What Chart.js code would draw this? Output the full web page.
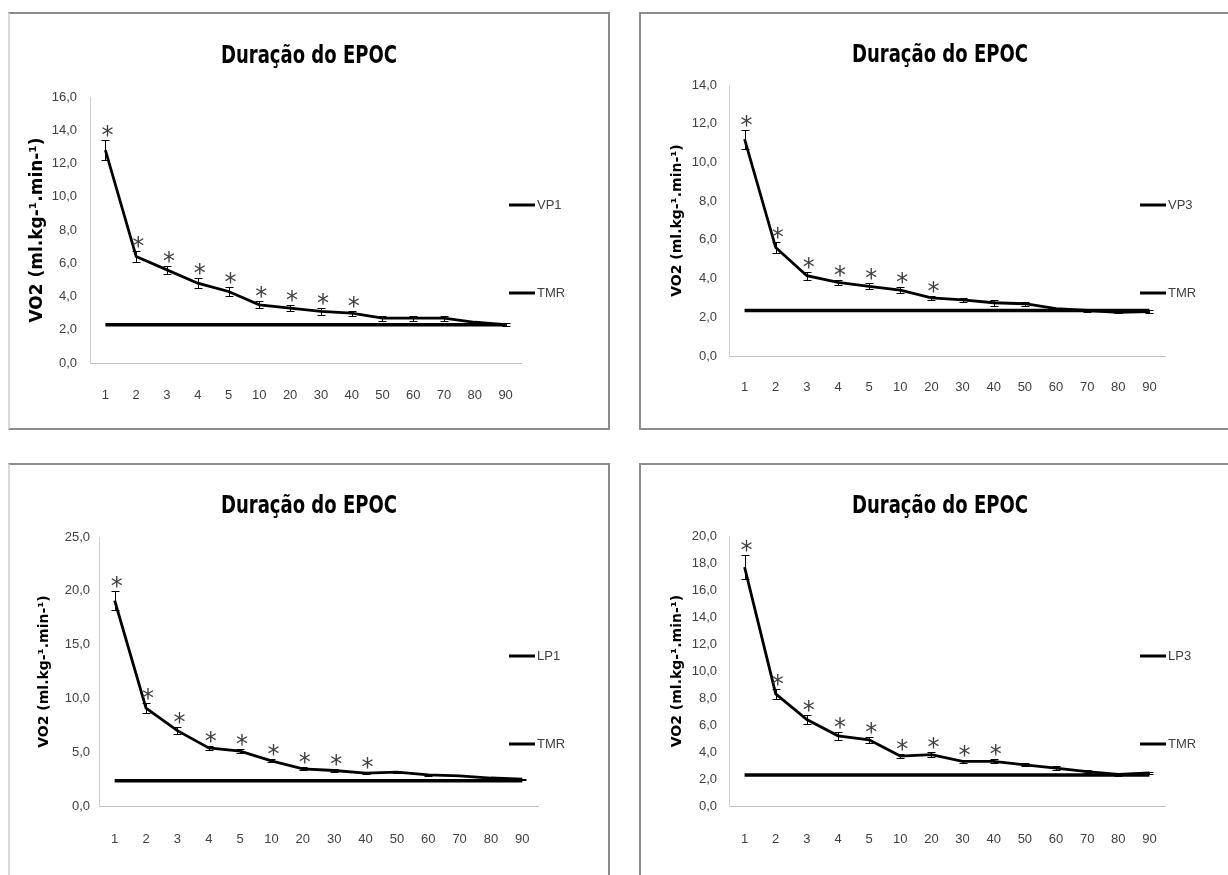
<!DOCTYPE html>
<html>
<head>
<meta charset="utf-8">
<script src="https://cdn.jsdelivr.net/npm/chart.js@4.4.1/dist/chart.umd.min.js"></script>
<style>
  html, body { margin:0; padding:0; background:#fff; width:1228px; height:875px; overflow:hidden; }
  .panel { position:absolute; box-sizing:border-box; border:2px solid #8c8c8c; }
  .panel.leftcol { border-left:2px solid #d9d9d9; }
  canvas { position:absolute; }
</style>
</head>
<body>
<div class="panel leftcol" style="left:8px;top:12px;width:602px;height:418px;"></div>
<div class="panel" style="left:639px;top:12px;width:602px;height:418px;"></div>
<div class="panel leftcol" style="left:8px;top:463px;width:602px;height:500px;"></div>
<div class="panel" style="left:639px;top:463px;width:602px;height:500px;"></div>
<canvas id="c1" width="600" height="416" style="left:9px;top:13px;"></canvas>
<canvas id="c2" width="600" height="416" style="left:640px;top:13px;"></canvas>
<canvas id="c3" width="600" height="416" style="left:9px;top:464px;"></canvas>
<canvas id="c4" width="600" height="416" style="left:640px;top:464px;"></canvas>
<script>
// ---------- data ----------
const minutes = ['1','2','3','4','5','10','20','30','40','50','60','70','80','90'];

const vp1    = [12.8, 6.4, 5.6, 4.8, 4.3, 3.5, 3.3, 3.1, 3.0, 2.7, 2.7, 2.7, 2.45, 2.3];
const vp1Sd  = [0.6, 0.35, 0.25, 0.3, 0.25, 0.2, 0.2, 0.2, 0.15, 0.15, 0.15, 0.15, 0.1, 0.1];
const vp1Sig = [1,1,1,1,1,1,1,1,1,0,0,0,0,0];
const vp1Tmr = [2.3, 2.3, 2.3, 2.3, 2.3, 2.3, 2.3, 2.3, 2.3, 2.3, 2.3, 2.3, 2.3, 2.3];

const vp3    = [11.2, 5.6, 4.15, 3.8, 3.6, 3.4, 3.0, 2.9, 2.75, 2.7, 2.45, 2.35, 2.25, 2.3];
const vp3Sd  = [0.5, 0.3, 0.2, 0.15, 0.15, 0.15, 0.1, 0.1, 0.15, 0.1, 0.05, 0.1, 0.05, 0.1];
const vp3Sig = [1,1,1,1,1,1,1,0,0,0,0,0,0,0];
const vp3Tmr = [2.35, 2.35, 2.35, 2.35, 2.35, 2.35, 2.35, 2.35, 2.35, 2.35, 2.35, 2.35, 2.35, 2.35];

const lp1    = [19.1, 9.1, 7.0, 5.4, 5.1, 4.2, 3.45, 3.3, 3.05, 3.15, 2.9, 2.8, 2.6, 2.5];
const lp1Sd  = [0.9, 0.5, 0.3, 0.2, 0.2, 0.15, 0.15, 0.1, 0.1, 0.1, 0.1, 0.05, 0.05, 0.05];
const lp1Sig = [1,1,1,1,1,1,1,1,1,0,0,0,0,0];
const lp1Tmr = [2.35, 2.35, 2.35, 2.35, 2.35, 2.35, 2.35, 2.35, 2.35, 2.35, 2.35, 2.35, 2.35, 2.35];

const lp3    = [17.7, 8.3, 6.4, 5.2, 4.9, 3.7, 3.8, 3.3, 3.3, 3.05, 2.8, 2.55, 2.35, 2.45];
const lp3Sd  = [0.9, 0.4, 0.35, 0.3, 0.2, 0.15, 0.2, 0.1, 0.15, 0.1, 0.15, 0.1, 0.1, 0.1];
const lp3Sig = [1,1,1,1,1,1,1,1,1,0,0,0,0,0];
const lp3Tmr = [2.3, 2.3, 2.3, 2.3, 2.3, 2.3, 2.3, 2.3, 2.3, 2.3, 2.3, 2.3, 2.3, 2.3];

const chartTitle = 'Duração do EPOC';
const yTitle = 'VO2 (ml.kg-¹.min-¹)';

// ---------- styling ----------
const COND = '"DejaVu Sans Condensed", "Liberation Sans Narrow", sans-serif';
const SANS = '"Liberation Sans", Arial, sans-serif';

const decorPlugin = {
  id: 'decor',
  beforeDraw(chart, args, opts) {
    // narrow the title box so the bold title is drawn condensed (like Calibri)
    const tb = chart.titleBlock;
    if (tb) {
      const cx = (tb.left + tb.right) / 2;
      tb.left = cx - opts.titleWidth / 2;
      tb.right = cx + opts.titleWidth / 2;
    }
  },
  afterDatasetsDraw(chart, args, opts) {
    const ctx = chart.ctx, xs = chart.scales.x, ys = chart.scales.y;
    const ds = chart.data.datasets[0];
    ctx.save();
    // error bars
    ctx.strokeStyle = '#000';
    ctx.lineWidth = 1;
    ds.data.forEach((v, i) => {
      const x = Math.round(xs.getPixelForValue(i)) + 0.5;
      const yt = Math.round(ys.getPixelForValue(v + opts.sd[i])) + 0.5;
      const yb = Math.round(ys.getPixelForValue(v - opts.sd[i])) + 0.5;
      ctx.beginPath();
      ctx.moveTo(x, yt); ctx.lineTo(x, yb);
      ctx.moveTo(x - 4, yt); ctx.lineTo(x + 4, yt);
      ctx.moveTo(x - 4, yb); ctx.lineTo(x + 4, yb);
      ctx.stroke();
    });
    // significance asterisks
    ctx.font = '24px "DejaVu Sans"';
    ctx.fillStyle = '#404040';
    ctx.textAlign = 'center';
    ctx.textBaseline = 'alphabetic';
    const m = ctx.measureText('*');
    const off = (m.actualBoundingBoxAscent - m.actualBoundingBoxDescent) / 2;
    ds.data.forEach((v, i) => {
      if (!opts.sig[i]) return;
      const x = xs.getPixelForValue(i) + 2;
      const yt = ys.getPixelForValue(v + opts.sd[i]);
      ctx.fillText('*', x, yt - 9 + off);
    });
    // legend
    ctx.font = '13px ' + SANS;
    ctx.fillStyle = '#404040';
    ctx.textAlign = 'left';
    ctx.textBaseline = 'middle';
    chart.data.datasets.forEach((d, i) => {
      const y = opts.legendY[i];
      ctx.strokeStyle = d.borderColor;
      ctx.lineWidth = 3;
      ctx.beginPath();
      ctx.moveTo(opts.legendX, y); ctx.lineTo(opts.legendX + 26, y);
      ctx.stroke();
      ctx.fillText(d.label, opts.legendX + 28, y);
    });
    ctx.restore();
  }
};

function makeChart(id, label, data, tmr, sd, sig, yMax, yStep, L) {
  new Chart(document.getElementById(id), {
    type: 'line',
    data: {
      labels: minutes,
      datasets: [
        { label: label, data: data, borderColor: '#000', borderWidth: 2.8, pointRadius: 0, tension: 0, fill: false },
        { label: 'TMR', data: tmr, borderColor: '#000', borderWidth: 3.5, pointRadius: 0, tension: 0, fill: false }
      ]
    },
    options: {
      responsive: false,
      animation: false,
      devicePixelRatio: 1,
      layout: { padding: 0 },
      plugins: {
        legend: { display: false },
        tooltip: { enabled: false },
        title: {
          display: true, text: chartTitle, color: '#000',
          font: { family: COND, size: 25, weight: 'bold', lineHeight: 1.2 },
          padding: { top: L.titleTop, bottom: L.titleBottom }
        },
        decor: { sd: sd, sig: sig, legendX: 500, legendY: [192, 280], titleWidth: 176 }
      },
      scales: {
        x: {
          type: 'category', offset: true,
          grid: { display: false, drawTicks: false },
          border: { color: '#bfbfbf', width: 1 },
          ticks: { padding: L.xPad, color: '#404040', font: { family: SANS, size: 13 }, maxRotation: 0, autoSkip: false },
          afterFit: s => { s.height = L.xHeight; }
        },
        y: {
          min: 0, max: yMax,
          grid: { display: false, drawTicks: false },
          border: { color: '#d0d0d0', width: 1 },
          ticks: { stepSize: yStep, padding: L.yPad, color: '#404040', font: { family: SANS, size: 13 },
                   callback: v => v.toFixed(1).replace('.', ',') },
          title: { display: true, text: yTitle, color: '#000',
                   font: { family: '"DejaVu Sans"', size: L.yTitleSize, weight: 'bold', lineHeight: 1.2 },
                   padding: { top: L.yTitlePad, bottom: 0 } },
          afterFit: s => { s.width = L.yWidth; }
        },
        side: {
          type: 'linear', position: 'right', display: true,
          grid: { display: false, drawTicks: false },
          border: { display: false },
          ticks: { display: false },
          afterFit: s => { s.width = L.padRight; }
        }
      }
    },
    plugins: [decorPlugin]
  });
}

makeChart('c1', 'VP1', vp1, vp1Tmr, vp1Sd, vp1Sig, 16, 2,
  { padRight: 88, titleTop: 28, titleBottom: 26, xHeight: 66, yWidth: 81, xPad: 25, yPad: 13, yTitlePad: 18, yTitleSize: 17 });
makeChart('c2', 'VP3', vp3, vp3Tmr, vp3Sd, vp3Sig, 14, 2,
  { padRight: 75, titleTop: 27, titleBottom: 15, xHeight: 73, yWidth: 89, xPad: 24, yPad: 12, yTitlePad: 28.5, yTitleSize: 14 });
makeChart('c3', 'LP1', lp1, lp1Tmr, lp1Sd, lp1Sig, 25, 5,
  { padRight: 71, titleTop: 27, titleBottom: 16, xHeight: 74, yWidth: 90, xPad: 26, yPad: 9, yTitlePad: 26.5, yTitleSize: 14 });
makeChart('c4', 'LP3', lp3, lp3Tmr, lp3Sd, lp3Sig, 20, 2,
  { padRight: 75, titleTop: 27, titleBottom: 15, xHeight: 74, yWidth: 89, xPad: 26, yPad: 12, yTitlePad: 28.5, yTitleSize: 14 });
</script>
</body>
</html>
